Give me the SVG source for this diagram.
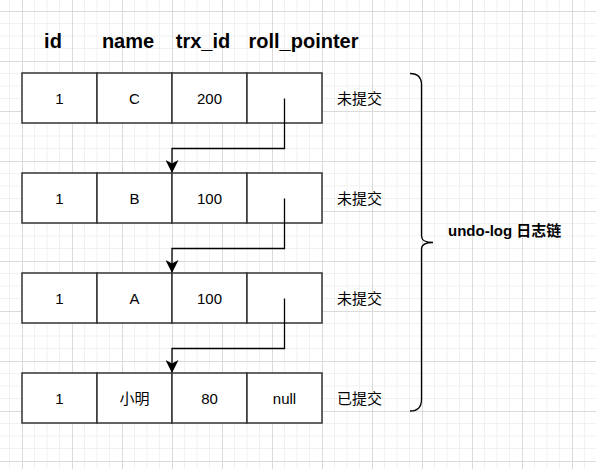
<svg xmlns="http://www.w3.org/2000/svg" width="596" height="469" viewBox="0 0 596 469">
<defs>
<pattern id="grid" x="22" y="11" width="50" height="50" patternUnits="userSpaceOnUse">
<rect x="0" y="0" width="50" height="50" fill="#ffffff"/>
<path d="M12.5,0V50M25,0V50M37.5,0V50M0,12.5H50M0,25H50M0,37.5H50" stroke="#f1f1f1" stroke-width="1" fill="none"/>
<path d="M0.5,0V50M0,0.5H50" stroke="#dadada" stroke-width="1" fill="none"/>
</pattern>
<marker id="arrow" viewBox="0 0 13 13" refX="12" refY="6.5" markerWidth="13" markerHeight="13" markerUnits="userSpaceOnUse" orient="auto">
<path d="M0,0 L13,6.5 L0,13 L3.5,6.5 Z" fill="#000"/>
</marker>
<style>
.cell{fill:#ffffff;stroke:#333333;stroke-width:1.5}
.t{font-family:"Liberation Sans","Noto Sans CJK SC",sans-serif;font-size:15px;fill:#000;text-anchor:middle}
.h{font-family:"Liberation Sans",sans-serif;font-size:20px;font-weight:bold;fill:#000;text-anchor:middle}
.s{font-family:"Liberation Sans","Noto Sans CJK SC",sans-serif;font-size:15px;fill:#000;text-anchor:start}
.conn{fill:none;stroke:#000;stroke-width:1.3}
</style>
</defs>
<rect x="0" y="0" width="596" height="469" fill="url(#grid)"/>

<g id="headers">
<text class="h" x="53" y="47.5">id</text>
<text class="h" x="128" y="47.5">name</text>
<text class="h" x="203" y="47.5">trx_id</text>
<text class="h" x="303.5" y="47.5">roll_pointer</text>
</g>

<g id="row-C">
<rect class="cell" x="22" y="73" width="75" height="50"/>
<rect class="cell" x="97" y="73" width="75" height="50"/>
<rect class="cell" x="172" y="73" width="75" height="50"/>
<rect class="cell" x="247" y="73" width="75" height="50"/>
<text class="t" x="59.5" y="104">1</text>
<text class="t" x="134.5" y="104">C</text>
<text class="t" x="209.5" y="104">200</text>
</g>
<g id="status-C"><text class="s" x="337" y="104">未提交</text></g>

<g id="row-B">
<rect class="cell" x="22" y="173" width="75" height="50"/>
<rect class="cell" x="97" y="173" width="75" height="50"/>
<rect class="cell" x="172" y="173" width="75" height="50"/>
<rect class="cell" x="247" y="173" width="75" height="50"/>
<text class="t" x="59.5" y="204">1</text>
<text class="t" x="134.5" y="204">B</text>
<text class="t" x="209.5" y="204">100</text>
</g>
<g id="status-B"><text class="s" x="337" y="204">未提交</text></g>

<g id="row-A">
<rect class="cell" x="22" y="273" width="75" height="50"/>
<rect class="cell" x="97" y="273" width="75" height="50"/>
<rect class="cell" x="172" y="273" width="75" height="50"/>
<rect class="cell" x="247" y="273" width="75" height="50"/>
<text class="t" x="59.5" y="304">1</text>
<text class="t" x="134.5" y="304">A</text>
<text class="t" x="209.5" y="304">100</text>
</g>
<g id="status-A"><text class="s" x="337" y="304">未提交</text></g>

<g id="row-xiaoming">
<rect class="cell" x="22" y="373" width="75" height="50"/>
<rect class="cell" x="97" y="373" width="75" height="50"/>
<rect class="cell" x="172" y="373" width="75" height="50"/>
<rect class="cell" x="247" y="373" width="75" height="50"/>
<text class="t" x="59.5" y="404">1</text>
<text class="t" x="134.5" y="404">小明</text>
<text class="t" x="209.5" y="404">80</text>
<text class="t" x="284.5" y="404">null</text>
</g>
<g id="status-xiaoming"><text class="s" x="337" y="404">已提交</text></g>

<g id="connectors">
<path class="conn" d="M284.5,98.5 V148.5 H172 V172" marker-end="url(#arrow)"/>
<path class="conn" d="M284.5,198.5 V248.5 H172 V272" marker-end="url(#arrow)"/>
<path class="conn" d="M284.5,298.5 V348.5 H172 V372" marker-end="url(#arrow)"/>
</g>

<g id="brace">
<path d="M410,73.5 Q421.5,73.5 421.5,85 V236 Q421.5,242.5 433,242.5 Q421.5,242.5 421.5,249 V399.5 Q421.5,411 410,411" fill="none" stroke="#000" stroke-width="1.3"/>
</g>
<g id="brace-label">
<text x="448" y="236" font-family="Liberation Sans, Noto Sans CJK SC, sans-serif" font-size="15" font-weight="bold" fill="#000">undo-log 日志链</text>
</g>
</svg>
